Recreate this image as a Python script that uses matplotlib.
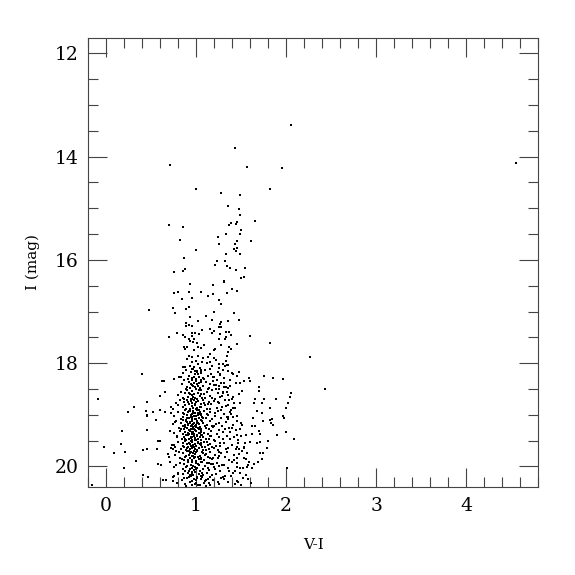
import matplotlib
matplotlib.use("Agg")
import matplotlib.pyplot as plt
from matplotlib.ticker import MultipleLocator

plt.rcParams['font.family'] = ['DejaVu Serif']

# --- bright / sparse stars read individually (V-I, I) ---
sparse_vi = [2.05, 4.55, 1.43, 0.71, 1.57, 1.96, 1.00, 1.28, 1.49, 1.82, 1.35, 1.48, 1.49, 1.39, 1.45,
             1.37, 1.44, 1.66, 0.70, 0.86, 1.50, 1.49, 1.33, 1.24, 0.82, 1.46, 1.61, 1.25, 1.43, 1.46,
             1.42, 1.00, 1.44, 1.33, 1.49, 0.87]
sparse_i = [13.39, 14.12, 13.83, 14.16, 14.20, 14.21, 14.63, 14.71, 14.75, 14.63, 14.96, 15.01, 15.13, 15.28, 15.26,
            15.33, 15.31, 15.25, 15.33, 15.36, 15.43, 15.49, 15.49, 15.55, 15.61, 15.63, 15.64, 15.69, 15.70, 15.77,
            15.79, 15.80, 15.82, 15.88, 15.89, 15.96]

# --- upper giant branch region (16 - 18 mag) ---
ugb_vi = [1.23, 1.21, 1.32, 1.34, 1.38, 1.44, 1.54, 0.76, 0.85, 0.88, 1.50, 1.53, 1.31, 1.31, 0.93, 1.19,
          1.40, 1.45, 1.34, 0.76, 0.80, 0.92, 1.05, 1.19, 1.13, 0.96, 0.84, 1.26, 1.28, 0.48, 0.74, 0.77,
          0.89, 0.92, 1.20, 1.42, 1.11, 0.93, 1.18, 1.35, 1.48, 1.02, 1.28, 1.27, 0.89, 0.92, 0.96, 0.89,
          1.25, 1.28, 1.16, 1.07, 1.20, 1.33, 1.37, 0.79, 0.96, 0.99, 1.18, 1.27, 1.39, 0.86, 0.95, 1.03,
          1.33, 0.70, 0.88, 1.60, 0.92, 0.98, 1.25, 1.32, 1.82, 0.93, 0.97, 1.01, 1.28, 1.45, 1.37, 0.87,
          0.90, 1.09, 1.02, 1.05, 1.21, 1.20, 1.39, 0.88, 0.98, 1.36, 1.15, 0.92, 0.95, 1.02, 1.34, 1.13,
          1.08, 1.20, 1.32, 1.36, 1.33, 1.30, 1.25, 1.40]
ugb_i = [16.03, 16.09, 16.03, 16.12, 16.15, 16.20, 16.15, 16.23, 16.22, 16.18, 16.35, 16.33, 16.40, 16.43, 16.47, 16.49,
         16.56, 16.60, 16.64, 16.65, 16.63, 16.62, 16.62, 16.67, 16.70, 16.73, 16.76, 16.77, 16.86, 16.97, 16.94, 17.02,
         16.96, 16.92, 17.01, 17.02, 17.08, 17.10, 17.16, 17.19, 17.16, 17.19, 17.21, 17.24, 17.23, 17.27, 17.28, 17.29,
         17.30, 17.30, 17.33, 17.36, 17.37, 17.39, 17.39, 17.41, 17.41, 17.42, 17.42, 17.44, 17.45, 17.46, 17.48, 17.44,
         17.49, 17.50, 17.50, 17.48, 17.54, 17.53, 17.54, 17.53, 17.61, 17.57, 17.59, 17.61, 17.64, 17.62, 17.68, 17.69,
         17.68, 17.65, 17.69, 17.71, 17.73, 17.75, 17.73, 17.73, 17.75, 17.79, 17.83, 17.87, 17.89, 17.87, 17.86, 17.89,
         17.90, 17.91, 18.06, 18.04, 17.96, 18.02, 18.01, 18.20]

# --- blue and red field stars around the faint clump ---
field_vi = [0.40, 0.62, 0.64, -0.09, 0.65, 0.60, 0.76, 0.81, 0.83, 0.45, 0.31, 0.25, 0.44, 0.52, 0.60, 0.65,
            0.45, 0.74, 0.80, 0.86, 0.45, 0.55, 0.18, 0.46, -0.02, 0.09, 0.17, 0.21, 0.41, 0.45, 0.57, 0.58,
            0.60, 0.33, 0.20, 0.58, 0.61, 0.41, 0.47, 0.63, -0.15, 0.71, 0.72, 0.74, 0.69, 0.70, 0.67, 0.74,
            1.75, 1.86, 1.97, 2.27, 1.70, 1.70, 2.05, 2.04, 1.89, 1.65, 1.73, 2.02, 2.00, 1.60, 1.59, 1.48,
            1.46, 1.41, 1.53, 1.49, 1.44, 1.38, 1.31, 1.34, 1.51, 1.48, 1.41, 1.49, 1.64, 1.68, 1.82, 1.73,
            1.84, 1.98, 1.41, 1.38, 1.41, 2.43, 2.00, 2.09, 1.97, 1.90, 1.80, 1.79, 1.74, 1.83, 1.82, 1.86,
            1.70, 1.71, 1.71, 1.68, 1.63, 1.62, 1.65, 1.71, 1.74, 1.73, 1.69, 1.64, 1.59, 1.62, 2.01, 1.53,
            1.57, 1.46, 1.49, 1.49, 1.62, 1.55, 1.60, 1.54, 1.53, 1.48, 1.46, 1.42, 1.49, 1.51, 1.40, 1.45,
            1.75, 1.40, 1.45, 1.47, 1.51, 1.55, 1.58, 1.61, 1.57, 1.52, 1.47, 1.50, 1.50, 1.55, 1.58, 1.43]
field_i = [18.21, 18.35, 18.35, 18.70, 18.56, 18.63, 18.31, 18.27, 18.27, 18.75, 18.85, 18.95, 18.92, 18.95, 18.90, 18.95,
           19.00, 18.88, 18.81, 18.08, 19.02, 19.10, 19.31, 19.30, 19.63, 19.74, 19.57, 19.72, 19.68, 19.66, 19.66, 19.50,
           19.50, 19.90, 20.04, 19.95, 19.97, 20.16, 20.21, 20.27, 20.36, 19.32, 19.64, 19.67, 19.76, 19.81, 20.27, 20.21,
           18.24, 18.29, 18.31, 17.89, 18.46, 18.54, 18.58, 18.65, 18.70, 18.70, 18.77, 18.78, 18.86, 18.34, 18.29, 18.17,
           18.24, 18.22, 18.35, 18.38, 18.38, 18.44, 18.47, 18.55, 18.54, 18.59, 18.65, 18.77, 18.77, 18.92, 18.86, 18.96,
           19.09, 19.06, 18.86, 18.94, 19.04, 18.51, 19.33, 19.47, 19.03, 19.39, 19.50, 19.64, 19.12, 19.15, 19.10, 19.19,
           19.31, 19.38, 19.53, 19.55, 19.06, 19.22, 19.22, 19.75, 19.74, 19.86, 19.91, 19.96, 19.91, 20.04, 20.03, 19.84,
           19.75, 19.83, 20.04, 20.13, 19.38, 19.39, 19.53, 19.55, 19.65, 19.67, 19.39, 19.43, 19.28, 19.19, 19.25, 19.12,
           18.70, 18.20, 19.63, 19.54, 19.70, 20.17, 20.25, 20.33, 20.02, 20.22, 20.30, 20.37, 19.16, 19.86, 19.97, 20.08]

# --- flanks of the clump (red giant side and blue edge) ---
flank_vi = [1.19, 1.23, 1.27, 1.31, 1.22, 1.26, 1.30, 1.35, 1.18, 1.24, 1.29, 1.33, 1.37, 1.21, 1.28, 1.34,
            1.39, 1.43, 1.20, 1.25, 1.32, 1.36, 1.41, 1.46, 1.17, 1.23, 1.30, 1.38, 1.44, 1.50, 1.22, 1.27,
            1.33, 1.40, 1.47, 1.53, 1.19, 1.26, 1.34, 1.42, 1.48, 1.21, 1.29, 1.37, 1.45, 1.52, 1.24, 1.31,
            1.39, 1.43, 0.72, 0.77, 0.79, 0.73, 0.78, 0.82, 0.71, 0.76, 0.80, 0.74, 0.79, 0.83, 0.72, 0.77,
            1.16, 1.20, 1.13, 1.17, 1.09, 1.14, 1.11, 1.07]
flank_i = [18.27, 18.33, 18.22, 18.39, 18.51, 18.44, 18.58, 18.48, 18.68, 18.76, 18.63, 18.83, 18.71, 18.97, 18.91, 19.05,
           18.99, 18.86, 19.21, 19.15, 19.27, 19.09, 19.19, 19.02, 19.41, 19.37, 19.46, 19.33, 19.29, 19.42, 19.61, 19.55,
           19.67, 19.58, 19.49, 19.63, 19.84, 19.79, 19.73, 19.87, 19.76, 20.05, 19.98, 20.09, 19.94, 20.03, 20.31, 20.24,
           20.18, 20.34, 18.96, 19.14, 19.44, 19.58, 19.71, 19.83, 19.92, 20.01, 20.14, 20.29, 20.33, 19.27, 18.84, 19.62,
           17.97, 18.42, 18.79, 19.32, 19.53, 19.94, 20.27, 20.20]

# --- dense clump, read band by band ---
core_vi = [0.90, 0.93, 0.96, 0.98, 1.00, 1.02, 1.04, 1.07, 0.95, 0.99, 1.12, 1.18, 1.22, 1.26, 1.30, 1.34, 0.88, 1.01, 1.05, 1.15,
           0.86, 0.89, 0.92, 0.94, 0.96, 0.97, 0.99, 1.00, 1.01, 1.03, 1.05, 1.08, 1.10, 1.13, 1.17, 1.20, 1.24, 1.27, 1.31, 1.36, 0.91, 0.98, 1.02, 1.06, 0.95,
           0.84, 0.87, 0.90, 0.92, 0.93, 0.95, 0.96, 0.98, 0.99, 1.00, 1.02, 1.03, 1.04, 1.06, 1.08, 1.11, 1.14, 1.16, 1.19, 1.22, 1.25, 1.28, 1.33, 1.38, 0.89, 0.97, 1.01, 1.05, 1.09, 0.94,
           0.80, 0.83, 0.86, 0.88, 0.90, 0.91, 0.93, 0.94, 0.96, 0.97, 0.98, 1.00, 1.01, 1.02, 1.04, 1.05, 1.07, 1.09, 1.12, 1.15, 1.18, 1.21, 1.24, 1.27, 1.30, 1.35, 1.40, 0.92, 0.95, 0.99, 1.03, 1.06, 1.10, 0.87, 1.13,
           0.78, 0.82, 0.85, 0.87, 0.89, 0.90, 0.92, 0.93, 0.94, 0.95, 0.96, 0.97, 0.98, 0.99, 1.00, 1.01, 1.02, 1.03, 1.05, 1.06, 1.08, 1.10, 1.12, 1.14, 1.17, 1.20, 1.23, 1.26, 1.29, 1.32, 1.36, 1.42, 0.91, 0.96, 1.00, 1.04, 0.88, 1.09, 1.15, 0.99,
           0.76, 0.80, 0.83, 0.85, 0.86, 0.88, 0.89, 0.90, 0.91, 0.92, 0.93, 0.94, 0.95, 0.96, 0.97, 0.98, 0.99, 1.00, 1.01, 1.02, 1.03, 1.04, 1.05, 1.06, 1.07, 1.09, 1.11, 1.13, 1.15, 1.18, 1.21, 1.24, 1.28, 1.31, 1.35, 1.39, 0.87, 0.90, 0.94, 0.97, 1.00, 1.03, 1.06, 0.92, 0.96, 0.99, 1.02, 1.08, 1.12, 0.95,
           0.74, 0.78, 0.81, 0.83, 0.85, 0.86, 0.87, 0.88, 0.89, 0.90, 0.91, 0.92, 0.93, 0.94, 0.95, 0.96, 0.97, 0.98, 0.99, 1.00, 1.01, 1.02, 1.03, 1.04, 1.05, 1.06, 1.08, 1.10, 1.12, 1.14, 1.16, 1.19, 1.22, 1.25, 1.29, 1.33, 1.37, 0.88, 0.91, 0.93, 0.96, 0.98, 1.00, 1.02, 1.05, 0.90, 0.95, 0.99, 1.03, 1.07, 1.11, 0.94, 0.97, 1.01, 1.18,
           0.75, 0.79, 0.82, 0.84, 0.86, 0.87, 0.88, 0.89, 0.90, 0.91, 0.92, 0.93, 0.94, 0.95, 0.96, 0.97, 0.98, 0.99, 1.00, 1.01, 1.02, 1.03, 1.04, 1.05, 1.06, 1.07, 1.09, 1.11, 1.13, 1.15, 1.17, 1.20, 1.23, 1.26, 1.30, 1.34, 1.38, 0.89, 0.92, 0.94, 0.97, 0.99, 1.01, 1.03, 1.06, 0.88, 0.93, 0.96, 1.00, 1.04, 1.08, 0.91, 0.95, 0.98, 1.14,
           0.76, 0.80, 0.83, 0.85, 0.87, 0.88, 0.89, 0.90, 0.91, 0.92, 0.93, 0.94, 0.95, 0.96, 0.97, 0.98, 0.99, 1.00, 1.01, 1.02, 1.03, 1.05, 1.06, 1.08, 1.10, 1.12, 1.14, 1.16, 1.18, 1.21, 1.24, 1.27, 1.31, 1.35, 1.40, 1.44, 0.90, 0.93, 0.96, 0.99, 1.02, 1.07, 1.11, 0.86, 0.94, 0.98, 1.04, 1.13, 1.20, 0.92,
           0.77, 0.81, 0.84, 0.86, 0.88, 0.90, 0.91, 0.92, 0.93, 0.94, 0.95, 0.96, 0.97, 0.98, 0.99, 1.00, 1.01, 1.02, 1.04, 1.05, 1.07, 1.09, 1.11, 1.13, 1.15, 1.18, 1.21, 1.24, 1.28, 1.32, 1.37, 1.42, 0.89, 0.93, 0.97, 1.00, 1.03, 1.06, 1.10, 0.95, 0.99, 1.16, 1.26, 0.87, 1.08,
           0.78, 0.82, 0.85, 0.87, 0.89, 0.91, 0.92, 0.94, 0.95, 0.96, 0.97, 0.98, 1.00, 1.01, 1.02, 1.04, 1.06, 1.08, 1.10, 1.12, 1.14, 1.17, 1.20, 1.23, 1.27, 1.31, 1.35, 1.40, 1.45, 0.90, 0.93, 0.99, 1.03, 1.07, 1.13, 1.19, 0.96, 1.00, 1.25, 0.88,
           0.76, 0.80, 0.84, 0.86, 0.88, 0.90, 0.91, 0.93, 0.94, 0.95, 0.97, 0.98, 0.99, 1.00, 1.01, 1.03, 1.04, 1.06, 1.08, 1.10, 1.12, 1.14, 1.16, 1.19, 1.22, 1.25, 1.28, 1.32, 1.36, 1.41, 1.46, 0.89, 0.92, 0.96, 1.00, 1.02, 1.05, 1.09, 1.13, 1.18, 1.24, 0.87, 0.95, 0.99, 1.07, 1.15, 1.30, 0.93, 1.01, 1.11]
core_i = [17.92, 18.05, 17.98, 18.08, 17.95, 18.02, 18.10, 17.97, 18.12, 18.15, 18.00, 18.06, 17.94, 18.09, 18.13, 18.03, 18.07, 18.18, 18.16, 18.11,
          18.20, 18.14, 18.25, 18.18, 18.28, 18.12, 18.22, 18.30, 18.16, 18.26, 18.19, 18.29, 18.13, 18.24, 18.21, 18.27, 18.17, 18.23, 18.29, 18.15, 18.30, 18.26, 18.21, 18.14, 18.33,
          18.40, 18.33, 18.46, 18.36, 18.49, 18.42, 18.31, 18.38, 18.47, 18.34, 18.44, 18.39, 18.49, 18.32, 18.45, 18.37, 18.48, 18.41, 18.35, 18.43, 18.50, 18.38, 18.46, 18.33, 18.50, 18.44, 18.41, 18.36, 18.31, 18.40,
          18.62, 18.55, 18.68, 18.58, 18.52, 18.65, 18.60, 18.70, 18.54, 18.66, 18.59, 18.51, 18.69, 18.57, 18.63, 18.53, 18.67, 18.60, 18.56, 18.64, 18.52, 18.69, 18.58, 18.66, 18.55, 18.62, 18.70, 18.57, 18.62, 18.67, 18.53, 18.59, 18.68, 18.69, 18.51,
          18.78, 18.72, 18.85, 18.75, 18.88, 18.71, 18.80, 18.89, 18.74, 18.83, 18.77, 18.87, 18.72, 18.81, 18.76, 18.86, 18.73, 18.90, 18.79, 18.84, 18.71, 18.82, 18.88, 18.75, 18.80, 18.73, 18.86, 18.78, 18.84, 18.72, 18.81, 18.77, 18.76, 18.70, 18.89, 18.85, 18.81, 18.78, 18.89, 18.79,
          19.02, 18.94, 19.08, 18.97, 19.05, 18.91, 19.10, 19.00, 18.95, 19.07, 18.92, 19.04, 18.99, 19.09, 18.93, 19.03, 18.96, 19.08, 18.91, 19.01, 19.06, 18.94, 19.10, 18.98, 19.04, 18.92, 19.07, 19.00, 18.95, 19.09, 19.02, 18.93, 19.06, 18.98, 19.04, 18.91, 18.99, 19.06, 19.01, 18.96, 19.03, 18.98, 19.01, 18.93, 19.05, 19.09, 18.97, 19.07, 18.99, 19.08,
          19.18, 19.12, 19.26, 19.15, 19.22, 19.11, 19.28, 19.19, 19.13, 19.25, 19.17, 19.29, 19.14, 19.21, 19.27, 19.12, 19.23, 19.16, 19.30, 19.20, 19.13, 19.26, 19.18, 19.24, 19.11, 19.28, 19.15, 19.22, 19.19, 19.27, 19.13, 19.24, 19.17, 19.29, 19.21, 19.14, 19.26, 19.23, 19.20, 19.16, 19.12, 19.27, 19.23, 19.16, 19.29, 19.14, 19.19, 19.22, 19.27, 19.12, 19.25, 19.28, 19.18, 19.15, 19.21,
          19.36, 19.42, 19.31, 19.47, 19.38, 19.44, 19.33, 19.49, 19.40, 19.35, 19.46, 19.32, 19.43, 19.37, 19.48, 19.34, 19.41, 19.45, 19.31, 19.39, 19.47, 19.36, 19.43, 19.33, 19.49, 19.40, 19.35, 19.46, 19.38, 19.42, 19.32, 19.48, 19.37, 19.44, 19.34, 19.41, 19.46, 19.39, 19.37, 19.45, 19.33, 19.48, 19.42, 19.35, 19.39, 19.47, 19.31, 19.44, 19.49, 19.36, 19.43, 19.40, 19.34, 19.38, 19.47,
          19.58, 19.52, 19.66, 19.55, 19.63, 19.51, 19.69, 19.57, 19.62, 19.54, 19.67, 19.60, 19.53, 19.65, 19.58, 19.70, 19.56, 19.61, 19.68, 19.52, 19.64, 19.59, 19.55, 19.69, 19.62, 19.53, 19.66, 19.57, 19.63, 19.51, 19.68, 19.60, 19.55, 19.64, 19.58, 19.67, 19.65, 19.56, 19.61, 19.66, 19.54, 19.62, 19.69, 19.60, 19.51, 19.63, 19.57, 19.59, 19.65, 19.70,
          19.78, 19.73, 19.86, 19.75, 19.82, 19.71, 19.88, 19.77, 19.84, 19.72, 19.80, 19.87, 19.74, 19.83, 19.76, 19.89, 19.71, 19.81, 19.79, 19.85, 19.73, 19.88, 19.76, 19.82, 19.72, 19.86, 19.78, 19.84, 19.74, 19.81, 19.87, 19.77, 19.79, 19.75, 19.80, 19.73, 19.86, 19.83, 19.77, 19.89, 19.81, 19.84, 19.72, 19.88, 19.74,
          19.98, 19.93, 20.06, 19.95, 20.02, 19.91, 20.08, 19.97, 20.04, 19.92, 20.00, 20.07, 19.94, 20.03, 19.96, 20.09, 19.91, 20.05, 19.99, 19.93, 20.07, 19.96, 20.02, 19.94, 20.08, 19.98, 20.04, 19.92, 20.01, 19.99, 20.05, 20.01, 19.97, 19.92, 20.03, 19.95, 20.10, 20.06, 20.00, 20.09,
          20.18, 20.12, 20.27, 20.15, 20.34, 20.22, 20.13, 20.30, 20.19, 20.37, 20.16, 20.25, 20.11, 20.32, 20.21, 20.14, 20.36, 20.24, 20.17, 20.29, 20.12, 20.33, 20.20, 20.26, 20.15, 20.35, 20.23, 20.18, 20.31, 20.13, 20.28, 20.38, 20.21, 20.14, 20.26, 20.37, 20.19, 20.33, 20.25, 20.16, 20.30, 20.23, 20.29, 20.35, 20.12, 20.36, 20.20, 20.17, 20.22, 20.38]

x_ticks = [0, 1, 2, 3, 4]
y_ticks = [12, 14, 16, 18, 20]

fig = plt.figure(figsize=(5.75, 5.75), dpi=100)
ax = fig.add_axes([0.153, 0.153, 0.783, 0.781])

for xs, ys in [(sparse_vi, sparse_i), (ugb_vi, ugb_i), (field_vi, field_i),
               (flank_vi, flank_i), (core_vi, core_i)]:
    ax.plot(xs, ys, linestyle='none', marker='s', markersize=1.6,
            markeredgewidth=0, color='black')

ax.set_xlim(-0.2, 4.8)
ax.set_ylim(20.4, 11.7)
ax.set_xticks(x_ticks)
ax.set_yticks(y_ticks)
ax.xaxis.set_minor_locator(MultipleLocator(0.2))
ax.yaxis.set_minor_locator(MultipleLocator(0.5))
ax.tick_params(which='both', direction='in', top=True, right=True, color='#444444', width=0.8)
ax.tick_params(which='major', length=14, labelsize=13.5, pad=7)
ax.tick_params(which='minor', length=7)
for s in ax.spines.values():
    s.set_color('#444444')
    s.set_linewidth(0.8)

ax.set_xlabel('V-I', fontsize=11, labelpad=17)
ax.set_ylabel('I (mag)', fontsize=11, labelpad=10)

fig.savefig('out.png', dpi=100)
